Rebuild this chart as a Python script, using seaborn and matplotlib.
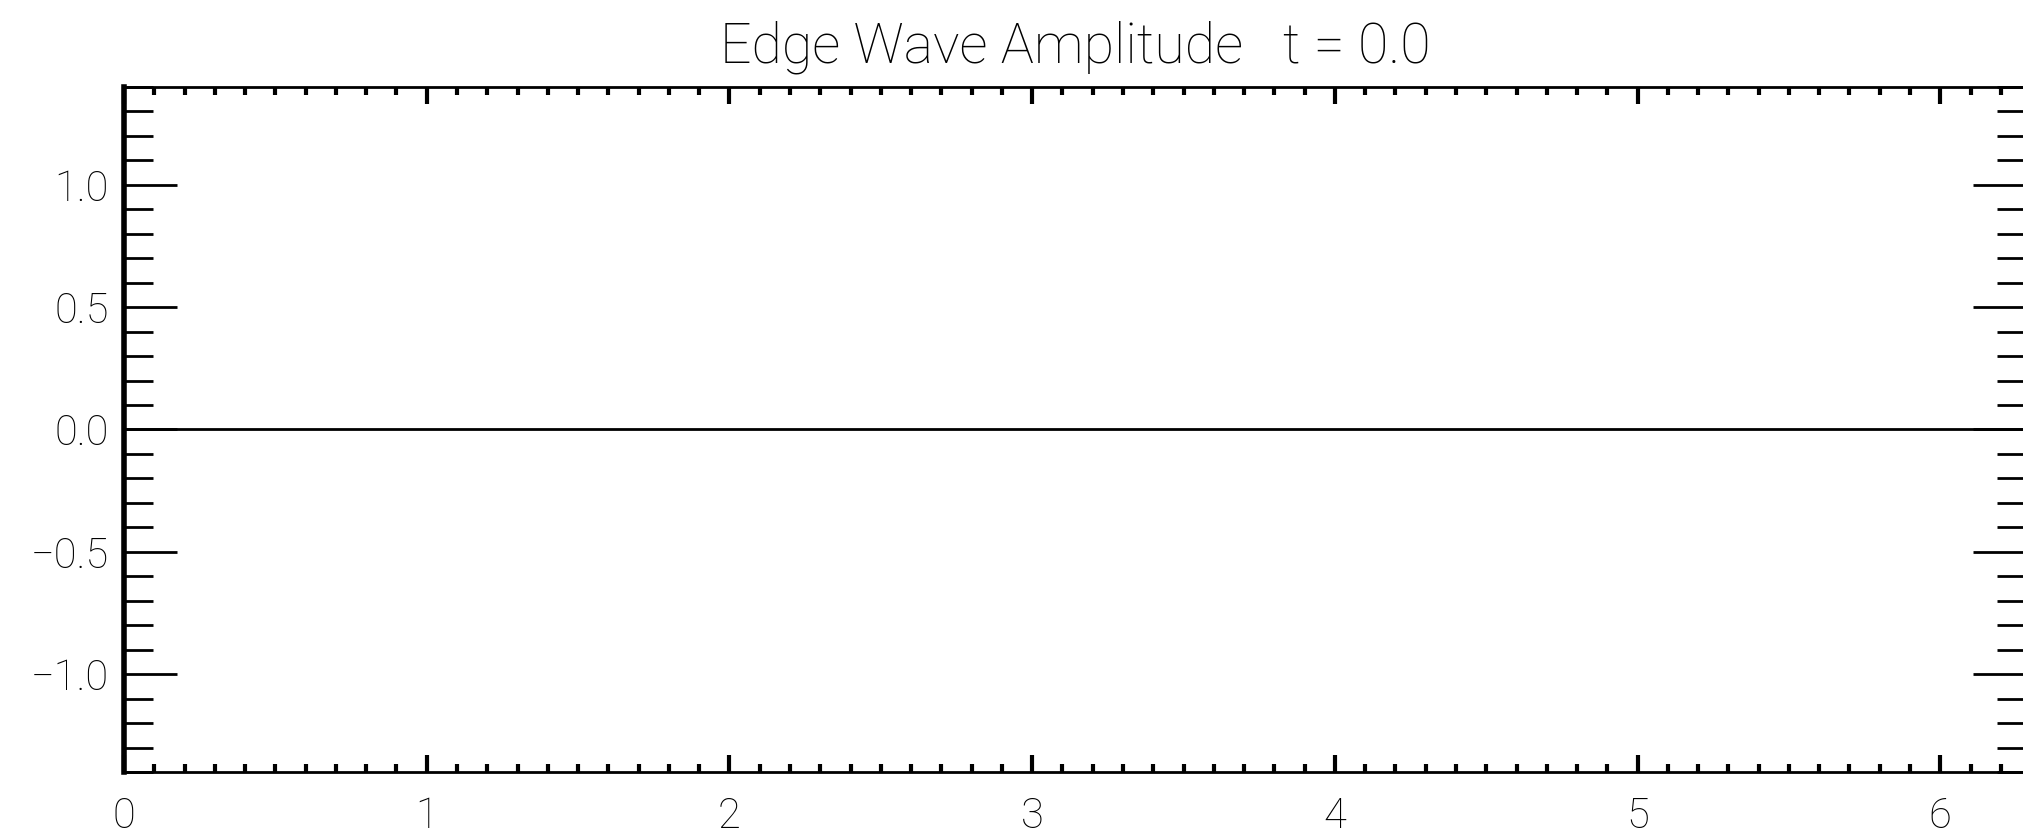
import numpy as np
import pandas as pd
import matplotlib
matplotlib.use("Agg")
import matplotlib.pyplot as plt
from matplotlib.ticker import MultipleLocator, FuncFormatter
import seaborn as sns

# data: flat wave at t = 0
position = [0.0, 6.2832]
amplitude = [0.0, 0.0]
time_label = "0.0"

sns.set_theme(style="white")
plt.rcParams['font.family'] = ['Roboto', 'DejaVu Sans']
plt.rcParams['font.weight'] = 'light'
plt.rcParams['text.color'] = 'black'
plt.rcParams['xtick.color'] = 'black'
plt.rcParams['ytick.color'] = 'black'

df = pd.DataFrame(dict(x=position, y=amplitude))

fig = plt.figure(figsize=(20.23, 8.36), dpi=100)
fig.patch.set_facecolor("white")
ax = fig.add_axes([0.0613, 0.0766, 0.9402, 0.8193])

sns.lineplot(data=df, x="x", y="y", color="black", lw=2, ax=ax)

ax.set_xlim(0, 6.2832)
ax.set_ylim(-1.4, 1.4)
ax.set_xlabel("")
ax.set_ylabel("")

ax.xaxis.set_major_locator(MultipleLocator(1))
ax.xaxis.set_minor_locator(MultipleLocator(0.1))
ax.yaxis.set_major_locator(MultipleLocator(0.5))
ax.yaxis.set_minor_locator(MultipleLocator(0.1))
ax.xaxis.set_major_formatter(FuncFormatter(lambda v, p: "%d" % round(v)))
ax.yaxis.set_major_formatter(FuncFormatter(lambda v, p: ("%.1f" % v).replace("-", "\u2212")))

ax.tick_params(axis="both", which="both", direction="in",
               top=True, right=True, bottom=True, left=True)
ax.tick_params(axis="x", which="major", length=12, width=3, labelsize=30, pad=17)
ax.tick_params(axis="x", which="minor", length=6, width=3)
ax.tick_params(axis="y", which="major", length=38, width=2, labelsize=30, pad=11)
ax.tick_params(axis="y", which="minor", length=21, width=2)

for side in ["left", "right", "top", "bottom"]:
    ax.spines[side].set_color("black")
    ax.spines[side].set_linewidth(2)
ax.spines["left"].set_linewidth(4)

ax.set_title("Edge Wave Amplitude   t = " + time_label, fontsize=40,
             fontweight="light", pad=18)

fig.savefig("out.png", dpi=100, facecolor="white")
